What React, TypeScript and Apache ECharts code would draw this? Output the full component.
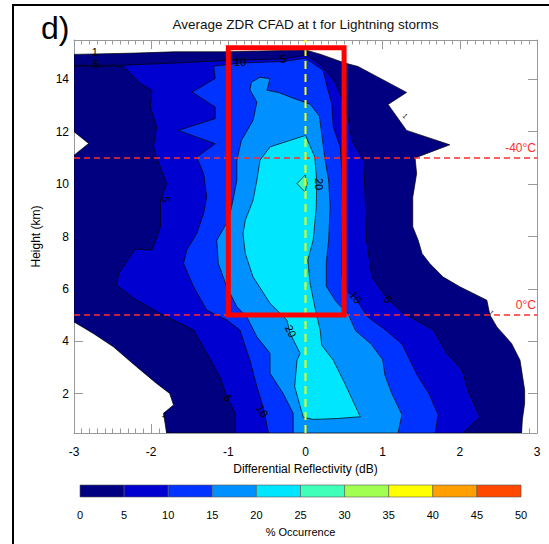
import React, { useEffect, useRef } from "react";
import * as echarts from "echarts";

// ---- axis ticks ----
const xTicks = [-3, -2, -1, 0, 1, 2, 3];
const yMajor = [2, 4, 6, 8, 10, 12, 14];
const yMinor = [0.5, 1, 1.5, 2, 2.5, 3, 3.5, 4, 4.5, 5, 5.5, 6, 6.5, 7, 7.5, 8, 8.5, 9, 9.5, 10, 10.5, 11, 11.5, 12, 12.5, 13, 13.5, 14, 14.5, 15, 15.5];
const yRange = [0.5, 15.5];
const colorbarBounds = [0, 5, 10, 15, 20, 25, 30, 35, 40, 45, 50];
const levelColors = ["#000080", "#0000d0", "#0033ff", "#0090ff", "#00e6ff", "#40ffb8", "#a0ff50", "#ffff00", "#ffa000", "#ff4800"];

// ---- filled contour boundaries: [ZDR (dB), height (km)] ----
const contour1 = [[-1.8, 0.5], [-1.84, 1.25], [-1.71, 1.57], [-1.76, 2.01], [-1.93, 2.39], [-2.19, 3.03], [-2.49, 3.79], [-2.75, 4.3], [-3.0, 4.74], [-3.0, 11.1], [-2.81, 11.55], [-3.0, 12.0], [-3.0, 14.95], [-2.2, 15.0], [-1.7, 15.05], [-1.0, 15.05], [-0.3, 15.1], [0.0, 15.12], [0.2, 14.95], [0.51, 14.62], [0.68, 14.49], [1.31, 13.5], [1.07, 13.04], [1.31, 12.05], [1.87, 11.5], [1.42, 11.0], [1.44, 10.4], [1.39, 9.5], [1.39, 8.37], [1.46, 7.86], [1.51, 7.35], [1.61, 6.97], [1.78, 6.46], [2.0, 6.08], [2.35, 5.57], [2.39, 5.0], [2.48, 4.55], [2.67, 3.92], [2.78, 3.28], [2.84, 2.14], [2.84, 1.64], [2.81, 1.0], [2.8, 0.5]];
const contour5 = [[-0.91, 0.5], [-0.91, 1.25], [-1.02, 1.88], [-1.11, 2.65], [-1.28, 3.54], [-1.45, 4.43], [-1.88, 5.06], [-2.19, 5.57], [-2.45, 6.14], [-2.42, 6.59], [-2.21, 7.52], [-1.99, 7.48], [-1.91, 8.11], [-1.88, 8.37], [-1.88, 9.38], [-1.8, 10.02], [-1.93, 11.03], [-1.97, 11.42], [-1.93, 12.18], [-2.01, 12.94], [-1.99, 13.58], [-2.14, 13.83], [-2.36, 14.5], [-3.0, 14.5], [-3.0, 14.53], [-2.36, 14.54], [-1.7, 14.62], [-1.0, 14.72], [-0.29, 14.78], [0.0, 14.92], [0.2, 14.55], [0.38, 13.9], [0.45, 13.45], [0.55, 12.56], [0.6, 11.67], [0.75, 10.91], [0.77, 9.76], [0.79, 7.86], [0.86, 6.46], [1.05, 5.65], [1.27, 5.06], [1.66, 4.43], [1.83, 3.54], [2.03, 2.9], [2.12, 2.0], [2.26, 1.12], [2.04, 0.5]];
const contour10 = [[-0.48, 0.5], [-0.55, 1.5], [-0.63, 2.27], [-0.72, 3.28], [-0.85, 4.43], [-1.02, 4.81], [-1.28, 5.19], [-1.45, 6.08], [-1.58, 6.97], [-1.54, 7.48], [-1.41, 8.11], [-1.32, 8.88], [-1.28, 9.51], [-1.32, 10.4], [-1.41, 11.03], [-1.17, 11.54], [-1.65, 12.05], [-1.17, 12.5], [-1.17, 12.94], [-1.47, 13.51], [-1.17, 14.03], [-1.19, 14.5], [-0.85, 14.62], [-0.29, 14.68], [0.0, 14.8], [0.23, 14.34], [0.27, 13.83], [0.34, 13.07], [0.36, 12.18], [0.45, 11.42], [0.47, 10.5], [0.48, 9.0], [0.47, 7.5], [0.47, 6.5], [0.51, 5.95], [0.64, 5.68], [0.8, 4.95], [1.05, 4.4], [1.25, 3.9], [1.35, 3.3], [1.45, 2.7], [1.6, 2.0], [1.72, 1.2], [1.68, 0.5]];
const contour15 = [[-0.16, 0.5], [-0.16, 1.25], [-0.29, 2.01], [-0.46, 2.78], [-0.46, 3.54], [-0.63, 4.17], [-0.76, 4.93], [-0.89, 5.32], [-1.02, 6.08], [-1.13, 6.97], [-1.15, 7.86], [-1.0, 8.62], [-0.94, 9.38], [-0.89, 10.15], [-0.89, 10.91], [-0.83, 11.67], [-0.68, 12.43], [-0.63, 13.13], [-0.72, 13.6], [-0.7, 13.89], [-0.59, 14.08], [-0.46, 14.02], [-0.5, 13.58], [-0.35, 13.5], [-0.16, 13.28], [0.06, 13.05], [0.18, 12.6], [0.22, 11.7], [0.25, 11.0], [0.3, 10.15], [0.32, 9.13], [0.3, 7.86], [0.27, 7.0], [0.27, 6.1], [0.4, 5.5], [0.55, 5.06], [0.65, 4.4], [0.85, 3.9], [1.0, 3.3], [1.03, 2.7], [1.12, 2.0], [1.25, 1.2], [1.2, 0.5]];
const contour20 = [[-0.03, 1.1], [-0.14, 2.27], [-0.11, 3.28], [-0.07, 3.54], [-0.2, 4.3], [-0.24, 4.81], [-0.46, 5.45], [-0.68, 6.46], [-0.78, 7.35], [-0.81, 8.11], [-0.78, 8.62], [-0.68, 9.38], [-0.63, 10.15], [-0.59, 10.91], [-0.46, 11.42], [0.0, 11.86], [0.12, 11.03], [0.145, 10.15], [0.14, 9.13], [0.1, 7.86], [0.03, 7.1], [0.06, 6.21], [0.12, 5.32], [0.19, 4.43], [0.21, 3.85], [0.36, 3.28], [0.51, 2.39], [0.71, 1.12], [0.4, 1.05], [0.1, 1.02]];
const contour25 = [[-0.11, 10.02], [-0.005, 10.34], [0.02, 10.03], [-0.005, 9.7]];

const contourSets = [
  { pts: contour1, color: levelColors[0] },
  { pts: contour5, color: levelColors[1] },
  { pts: contour10, color: levelColors[2] },
  { pts: contour15, color: levelColors[3] },
  { pts: contour20, color: levelColors[4] },
  { pts: contour25, color: levelColors[5] },
];

// contour labels: [x, h, text, rotation(rad), fontSize]
const contourLabels: [number, number, string, number, number][] = [
  [-2.73, 15.03, "1", 0, 11],
  [-2.71, 14.57, "5", 0, 11],
  [-0.85, 14.65, "10", 0, 11],
  [-0.29, 14.77, "5", 0, 11],
  [-1.81, 9.42, "5", -Math.PI / 2, 11],
  [0.175, 10.0, "20", -Math.PI / 2, 11],
  [0.65, 5.68, "10", -0.9, 11],
  [1.07, 5.6, "5", -0.9, 11],
  [-0.19, 4.39, "20", -1.1, 11],
  [-1.0, 1.83, "5", -1.2, 11],
  [-0.56, 1.34, "10", -1.0, 11],
  [-1.83, 1.19, "1", -0.5, 8],
  [1.29, 12.6, "1", -0.8, 7],
  [2.41, 5.09, "1", -0.8, 7],
];

const isotherms = [
  { h: 11, label: "-40°C" },
  { h: 5, label: "0°C" },
];
const zeroLineX = 0;
const boxCorners = [[-1, 15.2], [0.5, 5]];

const FONT = "Liberation Sans";
const AX = "#999999";

export default function App() {
  const ref = useRef<HTMLDivElement>(null);
  useEffect(() => {
    if (!ref.current) return;
    const chart = echarts.init(ref.current, null, { renderer: "svg" });

    const tickAxisCommon = {
      axisLine: { show: true, onZero: false, lineStyle: { color: AX, width: 1 } },
      splitLine: { show: false },
      minorSplitLine: { show: false },
    };

    const polySeries = contourSets.map((c, i) => ({
      type: "custom",
      xAxisIndex: 0,
      yAxisIndex: 0,
      z: 2 + i,
      silent: true,
      clip: true,
      data: [[c.pts[0][0], c.pts[0][1]]],
      renderItem: (params: any, api: any) => ({
        type: "polygon",
        shape: { points: c.pts.map((p) => api.coord(p)) },
        style: { fill: c.color, stroke: "#000", lineWidth: 0.7 },
      }),
    }));

    const cbData = colorbarBounds.slice(0, -1).map((v, i) => [v, colorbarBounds[i + 1]]);

    const option: any = {
      animation: false,
      backgroundColor: "#fff",
      textStyle: { fontFamily: FONT },
      grid: [
        { left: 74, top: 40, width: 463, height: 393 },
        { left: 80, top: 485, width: 441, height: 12 },
      ],
      xAxis: [
        {
          gridIndex: 0, type: "value", min: -3, max: 3, interval: 1, position: "bottom",
          ...tickAxisCommon,
          axisTick: { show: true, inside: true, length: 9, lineStyle: { color: AX } },
          minorTick: { show: true, splitNumber: 10, length: 4.5, lineStyle: { color: AX } },
          axisLabel: { color: "#000", fontSize: 12, margin: 13, showMinLabel: true, showMaxLabel: true, fontFamily: FONT },
          name: "Differential Reflectivity (dB)", nameLocation: "middle", nameGap: 30,
          nameTextStyle: { color: "#000", fontSize: 12, fontFamily: FONT },
        },
        {
          gridIndex: 0, type: "value", min: -3, max: 3, interval: 1, position: "top",
          ...tickAxisCommon,
          axisTick: { show: true, inside: true, length: 9, lineStyle: { color: AX } },
          minorTick: { show: true, splitNumber: 10, length: 4.5, lineStyle: { color: AX } },
          axisLabel: { show: false },
        },
        {
          gridIndex: 1, type: "value", min: 0, max: 50, interval: 5,
          axisLine: { show: false }, axisTick: { show: false }, splitLine: { show: false },
          axisLabel: { color: "#000", fontSize: 11, margin: 12, showMinLabel: true, showMaxLabel: true, fontFamily: FONT },
          name: "% Occurrence", nameLocation: "middle", nameGap: 29,
          nameTextStyle: { color: "#000", fontSize: 11, fontFamily: FONT },
        },
      ],
      yAxis: [
        {
          gridIndex: 0, type: "value", min: yRange[0], max: yRange[1], position: "left",
          ...tickAxisCommon,
          axisTick: { show: true, inside: true, length: 9, customValues: yMajor, lineStyle: { color: AX } },
          axisLabel: { color: "#000", fontSize: 12, margin: 5, customValues: yMajor, fontFamily: FONT },
          name: "Height (km)", nameLocation: "middle", nameGap: 32, nameRotate: 90,
          nameTextStyle: { color: "#000", fontSize: 12, fontFamily: FONT },
        },
        {
          gridIndex: 0, type: "value", min: yRange[0], max: yRange[1], position: "left",
          axisLine: { show: false }, splitLine: { show: false },
          axisTick: { show: true, inside: true, length: 4.5, customValues: yMinor, lineStyle: { color: AX } },
          axisLabel: { show: false },
        },
        {
          gridIndex: 0, type: "value", min: yRange[0], max: yRange[1], position: "right",
          ...tickAxisCommon,
          axisTick: { show: true, inside: true, length: 9, customValues: yMajor, lineStyle: { color: AX } },
          axisLabel: { show: false },
        },
        {
          gridIndex: 0, type: "value", min: yRange[0], max: yRange[1], position: "right",
          axisLine: { show: false }, splitLine: { show: false },
          axisTick: { show: true, inside: true, length: 4.5, customValues: yMinor, lineStyle: { color: AX } },
          axisLabel: { show: false },
        },
        { gridIndex: 1, type: "value", min: 0, max: 1, show: false },
      ],
      series: [
        ...polySeries,
        // isotherm dashed lines with labels
        {
          type: "custom",
          xAxisIndex: 0,
          yAxisIndex: 0,
          z: 20,
          silent: true,
          data: isotherms.map((t) => [xTicks[0], t.h]),
          renderItem: (params: any, api: any) => {
            const t = isotherms[params.dataIndex];
            const a = api.coord([xTicks[0], t.h]);
            const b = api.coord([xTicks[xTicks.length - 1], t.h]);
            return {
              type: "group",
              children: [
                { type: "line", shape: { x1: a[0], y1: a[1], x2: b[0], y2: b[1] }, style: { stroke: "#ff2d2d", lineWidth: 1.5, lineDash: [6, 4] } },
                { type: "text", x: b[0] - 1, y: b[1] - 4, style: { text: t.label, fill: "#ff2d2d", fontSize: 12, fontFamily: FONT, align: "right", verticalAlign: "bottom" } },
              ],
            };
          },
        },
        // zero ZDR yellow dashed line
        {
          type: "custom",
          xAxisIndex: 0,
          yAxisIndex: 0,
          z: 21,
          silent: true,
          data: [[zeroLineX, yRange[0]]],
          renderItem: (params: any, api: any) => {
            const a = api.coord([zeroLineX, yRange[0]]);
            const b = api.coord([zeroLineX, yRange[1]]);
            return { type: "line", shape: { x1: a[0], y1: a[1], x2: b[0], y2: b[1] }, style: { stroke: "#ffff00", lineWidth: 2, lineDash: [8, 5] } };
          },
        },
        // red highlight box
        {
          type: "custom",
          xAxisIndex: 0,
          yAxisIndex: 0,
          z: 22,
          silent: true,
          data: [boxCorners[0]],
          renderItem: (params: any, api: any) => {
            const a = api.coord(boxCorners[0]);
            const b = api.coord(boxCorners[1]);
            return { type: "rect", shape: { x: a[0], y: a[1], width: b[0] - a[0], height: b[1] - a[1] }, style: { fill: "none", stroke: "#ff0000", lineWidth: 5 } };
          },
        },
        // contour labels
        {
          type: "custom",
          xAxisIndex: 0,
          yAxisIndex: 0,
          z: 25,
          silent: true,
          data: contourLabels.map((l) => [l[0], l[1]]),
          renderItem: (params: any, api: any) => {
            const l = contourLabels[params.dataIndex];
            const p = api.coord([l[0], l[1]]);
            return {
              type: "text",
              x: p[0],
              y: p[1],
              rotation: l[3],
              style: { text: l[2], fill: "#000", fontSize: l[4], fontFamily: FONT, align: "center", verticalAlign: "middle" },
            };
          },
        },
        // colorbar
        {
          type: "custom",
          xAxisIndex: 2,
          yAxisIndex: 4,
          silent: true,
          data: cbData,
          renderItem: (params: any, api: any) => {
            const p0 = api.coord([api.value(0), 1]);
            const p1 = api.coord([api.value(1), 0]);
            return {
              type: "rect",
              shape: { x: p0[0], y: p0[1], width: p1[0] - p0[0], height: p1[1] - p0[1] },
              style: { fill: levelColors[params.dataIndex], stroke: "#555", lineWidth: 0.6 },
            };
          },
        },
      ],
      graphic: [
        { type: "rect", shape: { x: 13, y: 5, width: 700, height: 700 }, style: { fill: "none", stroke: "#000", lineWidth: 2 }, silent: true },
        { type: "text", x: 41, y: 28, style: { text: "d)", fontSize: 32, fontFamily: FONT, fill: "#000", align: "left", verticalAlign: "middle" } },
        { type: "text", x: 305.5, y: 24, style: { text: "Average ZDR CFAD at t for Lightning storms", fontSize: 13.5, fontFamily: FONT, fill: "#111", align: "center", verticalAlign: "middle" } },
      ],
    };
    chart.setOption(option);
    return () => chart.dispose();
  }, []);
  return <div ref={ref} style={{ position: "fixed", left: 0, top: 0, width: 549, height: 544, background: "#fff" }} />;
}
